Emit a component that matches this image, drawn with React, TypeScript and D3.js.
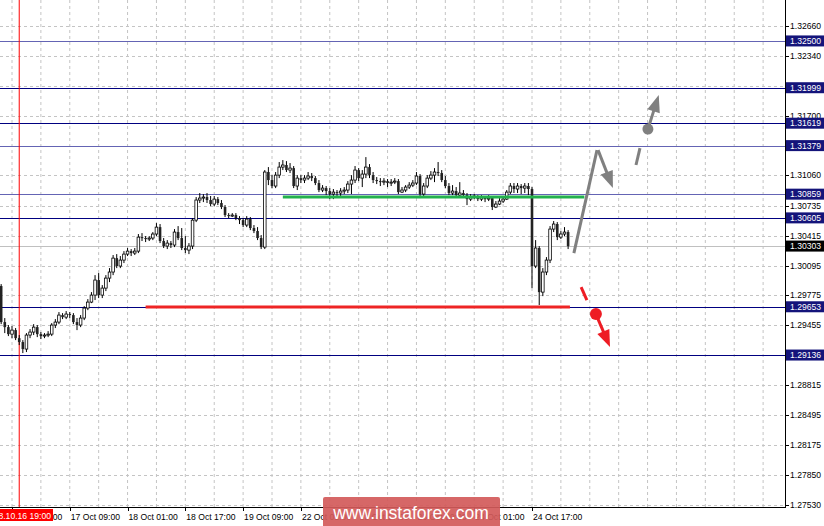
import React from "react";
import * as d3 from "d3";

// ---------- data ----------
const firstBar = -3; // bar index of first candle (0 = 16 Oct 17:00, H1)
const firstOpen = 1.29875;
const closes = [
  1.29489, 1.29435, 1.2936, 1.29403, 1.29317, 1.29275, 1.292, 1.2935, 1.29382, 1.29435,
  1.2936, 1.29339, 1.2935, 1.2936, 1.29457, 1.29489, 1.29564, 1.29542, 1.29575, 1.29564,
  1.29489, 1.29457, 1.29532, 1.29639, 1.29703, 1.29778, 1.29939, 1.29778, 1.29853, 1.2996,
  1.30025, 1.30174, 1.30089, 1.30153, 1.30217, 1.30249, 1.30228, 1.30249, 1.30399, 1.30389,
  1.30378, 1.30389, 1.30432, 1.30506, 1.30357, 1.30303, 1.30335, 1.30314, 1.30453, 1.30389,
  1.30282, 1.3026, 1.30303, 1.30581, 1.30796, 1.30817, 1.30828, 1.30796, 1.30753, 1.30806,
  1.30764, 1.30721, 1.30635, 1.30624, 1.30635, 1.30603, 1.30581, 1.30528, 1.30592, 1.30496,
  1.30464, 1.30389, 1.30292, 1.31096, 1.3101, 1.30946, 1.31063, 1.31149, 1.31171, 1.31117,
  1.31138, 1.30946, 1.31031, 1.3101, 1.31031, 1.31053, 1.31031, 1.30978, 1.30903, 1.30924,
  1.30892, 1.3086, 1.30881, 1.30871, 1.30892, 1.30903, 1.30967, 1.3101, 1.31117, 1.31031,
  1.31074, 1.31149, 1.31063, 1.3101, 1.30999, 1.30988, 1.30999, 1.30978, 1.30988, 1.30999,
  1.30881, 1.30903, 1.30935, 1.30956, 1.30978, 1.31053, 1.3086, 1.30946, 1.31031, 1.31063,
  1.31096, 1.31085, 1.3101, 1.30946, 1.30871, 1.30892, 1.30849, 1.30871, 1.30849, 1.30806,
  1.30828, 1.30839, 1.30806, 1.30828, 1.30806, 1.30817, 1.30721, 1.30753, 1.30785, 1.30806,
  1.30881, 1.30946, 1.30914, 1.30946, 1.30924, 1.30946, 1.30914, 1.30089, 1.30282, 1.2981,
  1.30025, 1.30153, 1.30485, 1.30539, 1.30399, 1.30432, 1.30453, 1.30303,
];
const highs = [
  1.29896, 1.29532, 1.29457, 1.29446, 1.29425, 1.2935, 1.29296, 1.29371, 1.29414, 1.29467,
  1.29457, 1.29382, 1.29371, 1.29392, 1.29478, 1.29521, 1.29596, 1.29585, 1.29607, 1.29596,
  1.29585, 1.29532, 1.29564, 1.2966, 1.29735, 1.2981, 1.29992, 1.30014, 1.29885, 1.29992,
  1.30067, 1.30207, 1.30217, 1.30196, 1.30249, 1.30282, 1.30271, 1.30282, 1.30432, 1.30442,
  1.3041, 1.3041, 1.30453, 1.30549, 1.30539, 1.30389, 1.30367, 1.30357, 1.30485, 1.30517,
  1.30496, 1.3041, 1.30335, 1.30603, 1.30828, 1.30871, 1.3086, 1.30871, 1.30839, 1.30839,
  1.30828, 1.30796, 1.30742, 1.30656, 1.30656, 1.30656, 1.30624, 1.30603, 1.30624, 1.30614,
  1.30528, 1.30506, 1.30421, 1.31117, 1.31149, 1.31063, 1.31096, 1.31203, 1.31224, 1.31213,
  1.31192, 1.3116, 1.31063, 1.31063, 1.31063, 1.31096, 1.31085, 1.31053, 1.3101, 1.30956,
  1.30946, 1.30924, 1.30914, 1.30903, 1.30924, 1.30935, 1.30999, 1.31063, 1.3116, 1.31138,
  1.31117, 1.31256, 1.31181, 1.31096, 1.31042, 1.31031, 1.31031, 1.31021, 1.31021, 1.31031,
  1.31021, 1.30935, 1.30956, 1.30988, 1.3101, 1.31096, 1.31074, 1.30978, 1.31063, 1.31106,
  1.31138, 1.31203, 1.31117, 1.31053, 1.30978, 1.30956, 1.30935, 1.30988, 1.30903, 1.30871,
  1.3086, 1.3086, 1.30849, 1.30849, 1.30839, 1.30849, 1.30839, 1.30785, 1.30817, 1.30839,
  1.30903, 1.30978, 1.30978, 1.30978, 1.30967, 1.30978, 1.30978, 1.30935, 1.30367, 1.30303,
  1.30067, 1.30185, 1.30517, 1.30571, 1.3056, 1.30464, 1.30506, 1.30474,
];
const lows = [
  1.29467, 1.29371, 1.29339, 1.29317, 1.29296, 1.29243, 1.29157, 1.29168, 1.29317, 1.2935,
  1.29328, 1.29307, 1.29317, 1.29328, 1.29339, 1.29425, 1.29467, 1.29521, 1.29521, 1.29532,
  1.29467, 1.29403, 1.29435, 1.2951, 1.29617, 1.29692, 1.29725, 1.29746, 1.29746, 1.29821,
  1.29917, 1.29992, 1.30067, 1.30067, 1.30121, 1.30196, 1.30196, 1.30207, 1.30228, 1.30357,
  1.30346, 1.30357, 1.30367, 1.3041, 1.30335, 1.30282, 1.30271, 1.30282, 1.30292, 1.30367,
  1.3026, 1.30228, 1.30217, 1.30271, 1.3056, 1.30764, 1.30774, 1.30764, 1.30731, 1.30731,
  1.30742, 1.30699, 1.30614, 1.30603, 1.30614, 1.30581, 1.30539, 1.30506, 1.30506, 1.30474,
  1.30442, 1.30367, 1.30271, 1.30271, 1.30956, 1.30924, 1.30924, 1.31031, 1.31117, 1.31096,
  1.31085, 1.30924, 1.30903, 1.30978, 1.30978, 1.3101, 1.30999, 1.30956, 1.30881, 1.30881,
  1.30849, 1.30806, 1.30806, 1.30828, 1.30839, 1.3086, 1.30871, 1.3086, 1.30978, 1.30999,
  1.30935, 1.31031, 1.31031, 1.30978, 1.30967, 1.30946, 1.30956, 1.30935, 1.30946, 1.30967,
  1.3086, 1.30871, 1.30881, 1.30914, 1.30935, 1.30956, 1.30817, 1.30839, 1.30924, 1.3101,
  1.30988, 1.31053, 1.30988, 1.30924, 1.30849, 1.30849, 1.30828, 1.30839, 1.30828, 1.30742,
  1.30785, 1.30806, 1.30785, 1.30785, 1.30774, 1.30785, 1.30689, 1.3071, 1.30742, 1.30764,
  1.30796, 1.3086, 1.30871, 1.30871, 1.3086, 1.30871, 1.30849, 1.29853, 1.30067, 1.29671,
  1.29767, 1.29992, 1.30121, 1.30453, 1.30367, 1.30378, 1.3041, 1.30271,
];

const timeTickBars = [0, 16, 32, 48, 64, 80, 96, 112, 128, 144];
const timeTickLabels = [
  "16 Oct 17:00", "17 Oct 09:00", "18 Oct 01:00", "18 Oct 17:00", "19 Oct 09:00",
  "22 Oct 01:00", "22 Oct 17:00", "23 Oct 09:00", "24 Oct 01:00", "24 Oct 17:00",
];
const markerBar = 2;
const markerLabel = "2018.10.16 19:00";

const priceTicks = [
  1.3266, 1.3234, 1.3202, 1.317, 1.3138, 1.3106, 1.30735, 1.30415, 1.30095,
  1.29775, 1.29455, 1.29135, 1.28815, 1.28495, 1.28175, 1.2785, 1.2753,
];
const levels = [1.325, 1.31999, 1.31619, 1.31379, 1.30859, 1.30605, 1.29653, 1.29136];
const levelTone = ["light", "dark", "dark", "light", "light", "dark", "dark", "dark"];
const currentPrice = 1.30303;

const supportLine = { from: 37, to: 154.5, price: 1.2965 };
const resistLine = { from: 75, to: 158.5, price: 1.30828 };

const grayUpLine = [[155.6, 1.30228], [162.0, 1.31331]];
const grayDownArrow = [[162.3, 1.31331], [166.4, 1.30924]];
const grayDash = [[172.8, 1.31171], [173.9, 1.31353]];
const grayDot = [176.1, 1.31556];
const grayUpArrow = [[176.1, 1.31556], [179.1, 1.3192]];
const redDash = [[157.6, 1.29864], [159.2, 1.29725]];
const redDot = [161.7, 1.29575];
const redArrow = [[161.7, 1.29575], [165.6, 1.29221]];

const watermark = "www.instaforex.com";

// ---------- chart ----------
const W = 824;
const H = 526;
const AXIS_X = 785;
const AXIS_Y = 507;
const FONT = "'Liberation Sans', Arial, sans-serif";

function Arrow({ pts, color, x, y }: any) {
  const [x1, y1] = [x(pts[0][0]), y(pts[0][1])];
  const [x2, y2] = [x(pts[1][0]), y(pts[1][1])];
  const ang = Math.atan2(y2 - y1, x2 - x1);
  const L = 17, hw = 6.5;
  const bx = x2 - L * Math.cos(ang), by = y2 - L * Math.sin(ang);
  const p1 = [bx + hw * Math.sin(ang), by - hw * Math.cos(ang)];
  const p2 = [bx - hw * Math.sin(ang), by + hw * Math.cos(ang)];
  return (
    <g>
      <line x1={x1} y1={y1} x2={bx + 2 * Math.cos(ang)} y2={by + 2 * Math.sin(ang)} stroke={color} strokeWidth={3} />
      <polygon points={`${x2},${y2} ${p1[0]},${p1[1]} ${p2[0]},${p2[1]}`} fill={color} />
    </g>
  );
}

export default function App() {
  const x = d3.scaleLinear().domain([0, 144]).range([12, 532]);
  const y = d3.scaleLinear().domain([1.2753, 1.3266]).range([505, 26]);

  const candles = closes.map((c, k) => ({
    bar: firstBar + k,
    o: k === 0 ? firstOpen : closes[k - 1],
    h: highs[k],
    l: lows[k],
    c,
  }));

  const vGrid = d3.range(0, 215, 8).map((b) => x(b)).filter((v) => v < AXIS_X);
  const darkBlue = "#000080";
  const lightBlue = "#6464b4";
  const boxBlue = "#14147a";

  const seg = (p: number[][], color: string) => (
    <line x1={x(p[0][0])} y1={y(p[0][1])} x2={x(p[1][0])} y2={y(p[1][1])} stroke={color} strokeWidth={3} />
  );

  return (
    <div style={{ position: "absolute", left: 0, top: 0, width: W, height: H }}>
      <svg width={W} height={H} style={{ display: "block", fontFamily: FONT }}>
        <rect x={0} y={0} width={W} height={H} fill="#ffffff" />
        {/* vertical grid */}
        {vGrid.map((v, i) => (
          <line key={"vg" + i} x1={v} x2={v} y1={0} y2={AXIS_Y} stroke="#c4c4c4" strokeDasharray="3,3" />
        ))}
        {/* horizontal grid */}
        {priceTicks.map((p, i) => (
          <line key={"hg" + i} x1={0} x2={AXIS_X} y1={Math.round(y(p)) + 0.5} y2={Math.round(y(p)) + 0.5} stroke="#c4c4c4" strokeDasharray="3,3" />
        ))}
        {/* current price line */}
        <line x1={0} x2={AXIS_X} y1={Math.round(y(currentPrice)) + 0.5} y2={Math.round(y(currentPrice)) + 0.5} stroke="#c0c0c0" />
        {/* level lines */}
        {levels.map((p, i) => (
          <line key={"lv" + i} x1={0} x2={AXIS_X} y1={Math.round(y(p)) + 0.5} y2={Math.round(y(p)) + 0.5}
            stroke={levelTone[i] === "dark" ? darkBlue : lightBlue} strokeWidth={1.2} />
        ))}
        {/* marker vertical line */}
        <line x1={x(markerBar)} x2={x(markerBar)} y1={0} y2={AXIS_Y} stroke="#ff0000" />
        {/* candles */}
        {candles.map((d, i) => {
          const cx = x(d.bar);
          const bull = d.c >= d.o;
          const top = y(Math.max(d.o, d.c));
          const bot = y(Math.min(d.o, d.c));
          return (
            <g key={"c" + i}>
              <line x1={cx} x2={cx} y1={y(d.h)} y2={y(d.l)} stroke="#000" strokeWidth={1} />
              {bull ? (
                <rect x={cx - 1.3} y={top} width={2.6} height={Math.max(bot - top, 1)} fill="#fff" stroke="#000" strokeWidth={0.8} />
              ) : (
                <rect x={cx - 1.3} y={top} width={2.6} height={Math.max(bot - top, 1)} fill="#222" />
              )}
            </g>
          );
        })}
        {/* horizontal analysis lines */}
        <line x1={x(resistLine.from)} x2={x(resistLine.to)} y1={y(resistLine.price)} y2={y(resistLine.price)} stroke="#22b14c" strokeWidth={3} />
        <line x1={x(supportLine.from)} x2={x(supportLine.to)} y1={y(supportLine.price)} y2={y(supportLine.price)} stroke="#ee2424" strokeWidth={3} />
        {/* gray forecast */}
        {seg(grayUpLine, "#808080")}
        <Arrow pts={grayDownArrow} color="#808080" x={x} y={y} />
        {seg(grayDash, "#808080")}
        <circle cx={x(grayDot[0])} cy={y(grayDot[1])} r={5.5} fill="#808080" />
        <Arrow pts={grayUpArrow} color="#808080" x={x} y={y} />
        {/* red forecast */}
        {seg(redDash, "#ee1c24")}
        <circle cx={x(redDot[0])} cy={y(redDot[1])} r={6} fill="#ee1c24" />
        <Arrow pts={redArrow} color="#ee1c24" x={x} y={y} />

        {/* axes */}
        <rect x={AXIS_X + 0.5} y={0} width={W - AXIS_X} height={H} fill="#fff" />
        <rect x={0} y={AXIS_Y + 0.5} width={W} height={H - AXIS_Y} fill="#fff" />
        <line x1={AXIS_X + 0.5} x2={AXIS_X + 0.5} y1={0} y2={AXIS_Y + 1} stroke="#000" />
        <line x1={0} x2={AXIS_X + 1} y1={AXIS_Y + 0.5} y2={AXIS_Y + 0.5} stroke="#000" />
        {priceTicks.map((p, i) => (
          <g key={"pt" + i}>
            <line x1={AXIS_X} x2={AXIS_X + 4} y1={Math.round(y(p)) + 0.5} y2={Math.round(y(p)) + 0.5} stroke="#000" />
            <text x={AXIS_X + 5} y={y(p) + 3} fontSize={8.6} fill="#000">{p.toFixed(5)}</text>
          </g>
        ))}
        {timeTickBars.map((b, i) => (
          <g key={"tt" + i}>
            <line x1={Math.round(x(b)) + 0.5} x2={Math.round(x(b)) + 0.5} y1={AXIS_Y} y2={AXIS_Y + 4} stroke="#000" />
            <text x={x(b) + 1} y={519.5} fontSize={8.6} fill="#000">{timeTickLabels[i]}</text>
          </g>
        ))}
        {/* level labels */}
        {levels.map((p, i) => (
          <g key={"ll" + i}>
            <rect x={AXIS_X + 1} y={y(p) - 5.5} width={W - AXIS_X - 1} height={11} fill={boxBlue} />
            <text x={AXIS_X + 5} y={y(p) + 3} fontSize={8.6} fill="#fff">{p.toFixed(5)}</text>
          </g>
        ))}
        <rect x={AXIS_X + 1} y={y(currentPrice) - 5.5} width={W - AXIS_X - 1} height={11} fill="#000" />
        <text x={AXIS_X + 5} y={y(currentPrice) + 3} fontSize={8.6} fill="#fff">{currentPrice.toFixed(5)}</text>
        {/* marker time label */}
        <rect x={0} y={509} width={53} height={12} fill="#ff0000" />
        <text x={51} y={519} fontSize={8.6} fill="#fff" textAnchor="end">{markerLabel}</text>
        {/* watermark */}
        <rect x={323} y={497} width={177} height={32} rx={2} fill="#d25a5a" opacity={0.92} />
        <text x={411} y={519} fontSize={17.5} fill="#fff" textAnchor="middle">{watermark}</text>
      </svg>
    </div>
  );
}
